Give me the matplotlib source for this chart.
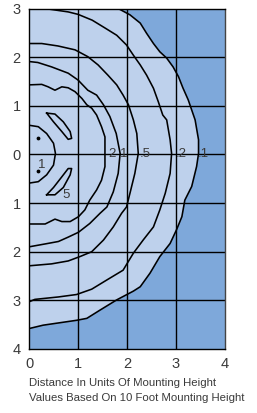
import numpy as np
import matplotlib
matplotlib.use("Agg")
import matplotlib.pyplot as plt

plt.rcParams['font.family'] = ['Liberation Sans', 'DejaVu Sans']

# ---- data (distance in units of mounting height) ----
x_ticks = [0, 1, 2, 3, 4]
x_tick_labels = ['0', '1', '2', '3', '4']
y_ticks = [3, 2, 1, 0, -1, -2, -3, -4]
y_tick_labels = ['3', '2', '1', '0', '1', '2', '3', '4']

# isofootcandle contours (x, y)
c01_x = [1.82, 2.06, 2.27, 2.40, 2.54, 2.67, 2.81, 2.94, 3.05, 3.14, 3.25, 3.39, 3.46, 3.46, 3.42, 3.32, 3.18, 3.12, 3.01, 2.88, 2.67, 2.47, 2.27, 2.13, 1.79, 1.45, 1.18, 0.97, 0.29, 0.0]
c01_y = [3.0, 2.87, 2.70, 2.49, 2.28, 2.11, 1.98, 1.80, 1.60, 1.37, 1.12, 0.71, 0.30, 0.02, -0.25, -0.66, -0.94, -1.28, -1.55, -1.83, -2.10, -2.44, -2.72, -2.81, -2.99, -3.20, -3.37, -3.41, -3.51, -3.58]

c02_x = [0.14, 0.39, 0.80, 1.00, 1.29, 1.55, 1.79, 1.99, 2.13, 2.27, 2.40, 2.54, 2.64, 2.73, 2.81, 2.88, 2.91, 2.88, 2.78, 2.67, 2.54, 2.33, 2.13, 1.92, 1.59, 1.28, 0.97, 0.60, 0.12, 0.0]
c02_y = [3.0, 2.99, 2.93, 2.88, 2.76, 2.60, 2.45, 2.25, 2.04, 1.84, 1.63, 1.36, 1.08, 0.81, 0.71, 0.30, 0.02, -0.39, -0.80, -1.14, -1.49, -1.76, -2.03, -2.38, -2.58, -2.77, -2.88, -2.93, -2.98, -3.03]

c05_x = [0.0, 0.26, 0.59, 0.94, 1.20, 1.41, 1.61, 1.79, 1.92, 2.03, 2.13, 2.20, 2.23, 2.16, 2.06, 1.99, 1.89, 1.72, 1.52, 1.28, 1.04, 0.80, 0.46, 0.0]
c05_y = [2.28, 2.28, 2.23, 2.15, 2.01, 1.84, 1.63, 1.43, 1.22, 1.02, 0.71, 0.43, 0.02, -0.39, -0.80, -1.08, -1.21, -1.49, -1.76, -2.00, -2.10, -2.19, -2.25, -2.29]

c1_x = [0.0, 0.18, 0.46, 0.80, 1.00, 1.20, 1.38, 1.52, 1.65, 1.78, 1.86, 1.82, 1.72, 1.59, 1.45, 1.24, 1.01, 0.80, 0.60, 0.33, 0.0]
c1_y = [1.91, 1.89, 1.80, 1.67, 1.53, 1.32, 1.22, 1.02, 0.78, 0.43, 0.02, -0.39, -0.77, -1.08, -1.21, -1.42, -1.60, -1.70, -1.79, -1.84, -1.90]

c2_x = [0.0, 0.26, 0.39, 0.53, 0.67, 0.80, 0.94, 1.08, 1.18, 1.28, 1.38, 1.48, 1.55, 1.55, 1.55, 1.48, 1.38, 1.24, 1.14, 1.01, 0.84, 0.67, 0.53, 0.33, 0.0]
c2_y = [1.43, 1.44, 1.39, 1.32, 1.39, 1.37, 1.29, 1.15, 1.02, 0.95, 0.81, 0.57, 0.36, 0.02, -0.25, -0.53, -0.73, -0.94, -1.14, -1.28, -1.38, -1.38, -1.33, -1.43, -1.43]

c10_x = [0.0, 0.19, 0.36, 0.50, 0.54, 0.50, 0.36, 0.19, 0.0]
c10_y = [0.60, 0.57, 0.43, 0.23, 0.02, -0.22, -0.42, -0.56, -0.59]

c5a_x = [0.36, 0.53, 0.70, 0.84, 0.87, 0.80, 0.67, 0.50, 0.36]
c5a_y = [0.85, 0.83, 0.67, 0.47, 0.33, 0.31, 0.47, 0.67, 0.85]
c5b_x = [0.36, 0.53, 0.70, 0.84, 0.87, 0.80, 0.67, 0.50, 0.36]
c5b_y = [-0.83, -0.83, -0.68, -0.42, -0.29, -0.29, -0.46, -0.68, -0.83]

dot_x = [0.18, 0.18]
dot_y = [0.33, -0.34]

label_text = ['2', '1', '.5', '.2', '.1', '1', '5']
label_x = [1.69, 1.94, 2.37, 3.10, 3.56, 0.26, 0.75]
label_y = [0.0, 0.0, 0.0, 0.0, 0.0, -0.22, -0.83]

caption_lines = ['Distance In Units Of Mounting Height',
                 'Values Based On 10 Foot Mounting Height']

# ---- drawing ----
W, H = 257, 413
fig = plt.figure(figsize=(W / 100, H / 100), dpi=100)
ax = fig.add_axes([29 / W, 1 - 349 / H, 196 / W, 340.5 / H])

dark = '#7ea8da'
light = '#bed1ec'
ax.set_facecolor(dark)
ax.set_xlim(0, 4)
ax.set_ylim(-4, 3)

# light region inside the .1 contour
fx = list(c01_x) + [0.0]
fy = list(c01_y) + [3.0]
ax.fill(fx, fy, color=light, lw=0, zorder=1)

for v in [1, 2, 3]:
    ax.axvline(v, color='black', lw=1.0, zorder=2)
for v in [2, 1, 0, -1, -2, -3]:
    ax.axhline(v, color='black', lw=1.0, zorder=2)

lw = 1.15
for xs, ys in [(c01_x, c01_y), (c02_x, c02_y), (c05_x, c05_y), (c1_x, c1_y),
               (c2_x, c2_y), (c10_x, c10_y), (c5a_x, c5a_y), (c5b_x, c5b_y)]:
    ax.plot(xs, ys, color='black', lw=lw, zorder=3, solid_joinstyle='round')

ax.scatter(dot_x, dot_y, s=3, color='black', zorder=4)

for t, x, y in zip(label_text, label_x, label_y):
    ax.text(x, y, t, fontsize=9.5, color='#3a3a3a', ha='center', va='center', zorder=5)

ax.set_xticks(x_ticks)
ax.set_xticklabels(x_tick_labels)
ax.set_yticks(y_ticks)
ax.set_yticklabels(y_tick_labels)
ax.tick_params(length=0, labelsize=10.5, colors='#3a3a3a', pad=6)
for s in ax.spines.values():
    s.set_color('black')
    s.set_linewidth(1.0)
    s.set_zorder(6)
ax.spines['right'].set_color('#444444')

fig.text(29 / W, 1 - 383 / H, caption_lines[0], fontsize=8.2, color='#3a3a3a', va='center', ha='left')
fig.text(29 / W, 1 - 398 / H, caption_lines[1], fontsize=8.2, color='#3a3a3a', va='center', ha='left')

fig.savefig('out.png', dpi=100)
